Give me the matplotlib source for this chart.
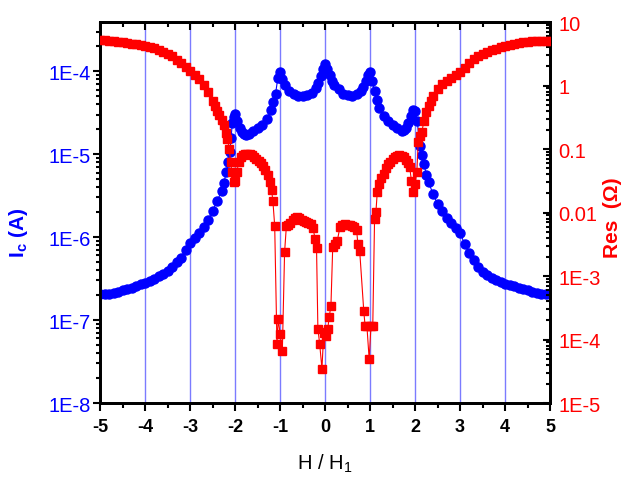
import numpy as np
import matplotlib
matplotlib.use("Agg")
from matplotlib import pyplot as plt
from matplotlib.ticker import FixedLocator, FixedFormatter, LogLocator, NullFormatter, MultipleLocator

plt.rcParams['font.family'] = ['Liberation Sans', 'DejaVu Sans']
plt.rcParams['mathtext.fontset'] = 'custom'
plt.rcParams['mathtext.rm'] = 'Liberation Sans'
plt.rcParams['mathtext.bf'] = 'Liberation Sans:bold'

ic_h = [-5.0, -4.9, -4.8, -4.7, -4.6, -4.5, -4.4, -4.3, -4.2, -4.1,
        -4.0, -3.9, -3.8, -3.7, -3.6, -3.5, -3.4, -3.3, -3.2, -3.1,
        -3.0, -2.9, -2.8, -2.7, -2.6, -2.5, -2.4, -2.3, -2.25, -2.2,
        -2.15, -2.12, -2.09, -2.06, -2.03, -2.0, -1.95, -1.9, -1.85, -1.8,
        -1.75, -1.7, -1.6, -1.5, -1.4, -1.3, -1.2, -1.15, -1.1, -1.05,
        -1.0, -0.95, -0.9, -0.8, -0.7, -0.6, -0.5, -0.4, -0.3, -0.2,
        -0.15, -0.1, -0.05, 0.0, 0.05, 0.1, 0.15, 0.2, 0.3, 0.4,
        0.5, 0.6, 0.7, 0.8, 0.85, 0.9, 0.95, 1.0, 1.05, 1.1,
        1.15, 1.2, 1.3, 1.4, 1.5, 1.6, 1.7, 1.75, 1.8, 1.85,
        1.9, 1.95, 2.0, 2.05, 2.1, 2.15, 2.2, 2.25, 2.3, 2.4,
        2.5, 2.6, 2.7, 2.8, 2.9, 3.0, 3.1, 3.2, 3.3, 3.4,
        3.5, 3.6, 3.7, 3.8, 3.9, 4.0, 4.1, 4.2, 4.3, 4.4,
        4.5, 4.6, 4.7, 4.8, 4.9, 5.0]
ic_log = [-6.69, -6.69, -6.68, -6.67, -6.66, -6.64, -6.62, -6.61, -6.59, -6.57,
          -6.55, -6.53, -6.50, -6.47, -6.44, -6.41, -6.36, -6.30, -6.25, -6.15,
          -6.07, -6.01, -5.95, -5.88, -5.79, -5.68, -5.57, -5.44, -5.35, -5.22,
          -5.10, -4.97, -4.80, -4.62, -4.55, -4.52, -4.60, -4.68, -4.73, -4.76,
          -4.77, -4.76, -4.72, -4.69, -4.65, -4.58, -4.47, -4.37, -4.27, -4.08,
          -4.01, -4.10, -4.17, -4.24, -4.28, -4.30, -4.30, -4.29, -4.26, -4.20,
          -4.14, -4.06, -3.97, -3.92, -3.98, -4.05, -4.12, -4.17, -4.22, -4.27,
          -4.29, -4.30, -4.28, -4.24, -4.19, -4.12, -4.05, -4.01, -4.12, -4.24,
          -4.35, -4.44, -4.54, -4.60, -4.65, -4.69, -4.72, -4.71, -4.68, -4.62,
          -4.54, -4.47, -4.48, -4.60, -4.90, -5.01, -5.12, -5.25, -5.34, -5.48,
          -5.60, -5.69, -5.77, -5.83, -5.89, -5.95, -6.08, -6.19, -6.28, -6.36,
          -6.42, -6.46, -6.49, -6.52, -6.54, -6.56, -6.58, -6.59, -6.61, -6.63,
          -6.64, -6.66, -6.67, -6.68, -6.69, -6.69]

res_h = [-5.0, -4.9, -4.8, -4.7, -4.6, -4.5, -4.4, -4.3, -4.2, -4.1,
         -4.0, -3.9, -3.8, -3.7, -3.6, -3.5, -3.4, -3.3, -3.2, -3.1,
         -3.0, -2.9, -2.8, -2.7, -2.6, -2.5, -2.45, -2.4, -2.35, -2.3,
         -2.25, -2.2, -2.17, -2.13, -2.1, -2.07, -2.03, -2.0, -1.96, -1.92,
         -1.88, -1.83, -1.78, -1.73, -1.68, -1.63, -1.58, -1.53, -1.48, -1.43,
         -1.38, -1.33, -1.28, -1.23, -1.19, -1.16, -1.12, -1.07, -1.04, -1.0,
         -0.95, -0.9, -0.86, -0.82, -0.77, -0.72, -0.67, -0.62, -0.57, -0.52,
         -0.47, -0.42, -0.37, -0.32, -0.27, -0.22, -0.19, -0.16, -0.12, -0.07,
         -0.03, 0.0, 0.03, 0.06, 0.09, 0.13, 0.17, 0.22, 0.27, 0.33,
         0.38, 0.44, 0.5, 0.55, 0.6, 0.65, 0.7, 0.73, 0.77, 0.86,
         0.89, 0.93, 0.98, 1.02, 1.06, 1.1, 1.13, 1.16, 1.2, 1.25,
         1.3, 1.35, 1.4, 1.45, 1.5, 1.55, 1.6, 1.65, 1.7, 1.75,
         1.8, 1.85, 1.88, 1.92, 1.96, 2.0, 2.04, 2.07, 2.11, 2.15,
         2.2, 2.25, 2.3, 2.35, 2.4, 2.5, 2.6, 2.7, 2.8, 2.9,
         3.0, 3.1, 3.2, 3.3, 3.4, 3.5, 3.6, 3.7, 3.8, 3.9,
         4.0, 4.1, 4.2, 4.3, 4.4, 4.5, 4.6, 4.7, 4.8, 4.9, 5.0]
res_log = [0.72, 0.715, 0.71, 0.70, 0.69, 0.68, 0.67, 0.66, 0.65, 0.635,
           0.62, 0.605, 0.59, 0.565, 0.535, 0.50, 0.46, 0.41, 0.35, 0.29,
           0.23, 0.17, 0.10, 0.01, -0.10, -0.24, -0.32, -0.40, -0.47, -0.54,
           -0.62, -0.75, -0.84, -1.00, -1.20, -1.36, -1.52, -1.50, -1.36, -1.20,
           -1.13, -1.09, -1.07, -1.07, -1.08, -1.10, -1.12, -1.15, -1.18, -1.22,
           -1.27, -1.33, -1.41, -1.52, -1.64, -1.82, -2.21, -4.07, -3.68, -3.91,
           -4.18, -2.62, -2.21, -2.20, -2.17, -2.12, -2.09, -2.07, -2.08, -2.11,
           -2.14, -2.15, -2.16, -2.18, -2.24, -2.42, -2.56, -3.83, -4.07, -4.46,
           -3.90, -3.88, -3.94, -3.83, -3.65, -3.47, -2.54, -2.50, -2.45, -2.23,
           -2.19, -2.18, -2.19, -2.20, -2.21, -2.23, -2.27, -2.50, -2.61, -3.55,
           -3.79, -3.79, -4.31, -3.79, -3.79, -2.10, -1.99, -1.68, -1.55, -1.45,
           -1.39, -1.30, -1.24, -1.20, -1.16, -1.13, -1.11, -1.10, -1.11, -1.13,
           -1.17, -1.22, -1.28, -1.50, -1.68, -1.55, -1.36, -0.89, -0.80, -0.73,
           -0.55, -0.42, -0.32, -0.24, -0.17, -0.06, 0.02, 0.07, 0.12, 0.17,
           0.21, 0.28, 0.36, 0.42, 0.46, 0.50, 0.53, 0.555, 0.58, 0.60,
           0.62, 0.64, 0.655, 0.665, 0.68, 0.69, 0.695, 0.70, 0.705, 0.71, 0.71]

grid_h = [-4, -3, -2, -1, 0, 1, 2, 3, 4]
x_ticks = [-5, -4, -3, -2, -1, 0, 1, 2, 3, 4, 5]
left_ticks = [1e-8, 1e-7, 1e-6, 1e-5, 1e-4]
left_labels = ["1E-8", "1E-7", "1E-6", "1E-5", "1E-4"]
right_ticks = [1e-5, 1e-4, 1e-3, 1e-2, 1e-1, 1, 10]
right_labels = ["1E-5", "1E-4", "1E-3", "0.01", "0.1", "1", "10"]

BLUE = "#0000ff"
RED = "#ff0000"

fig = plt.figure(figsize=(6.26, 4.81), dpi=100)
ax = fig.add_axes([0.16, 0.16, 0.7186, 0.792])
ax2 = ax.twinx()

for h in grid_h:
    ax.axvline(h, color="#7b7bff", lw=1.0, zorder=0)

ax.plot(ic_h, 10.0 ** np.array(ic_log), "-o", color=BLUE, lw=0.8,
        ms=6.5, mec=BLUE, mfc=BLUE, zorder=3)
ax2.plot(res_h, 10.0 ** np.array(res_log), "-s", color=RED, lw=0.8,
         ms=5.5, mec=RED, mfc=RED, zorder=3)

ax.set_xlim(-5, 5)
ax.set_yscale("log")
ax.set_ylim(1e-8, 3.9e-4)
ax2.set_yscale("log")
ax2.set_ylim(1e-5, 10)

ax.set_xticks(x_ticks)
ax.set_xticklabels([str(v) for v in x_ticks], fontweight="bold")
ax.xaxis.set_minor_locator(MultipleLocator(0.5))

ax.yaxis.set_major_locator(FixedLocator(left_ticks))
ax.yaxis.set_major_formatter(FixedFormatter(left_labels))
ax.yaxis.set_minor_locator(LogLocator(base=10, subs=np.arange(2, 10), numticks=20))
ax.yaxis.set_minor_formatter(NullFormatter())

ax2.yaxis.set_major_locator(FixedLocator(right_ticks))
ax2.yaxis.set_major_formatter(FixedFormatter(right_labels))
ax2.yaxis.set_minor_locator(LogLocator(base=10, subs=np.arange(2, 10), numticks=20))
ax2.yaxis.set_minor_formatter(NullFormatter())

for a in (ax, ax2):
    for s in a.spines.values():
        s.set_linewidth(2)

# bottom ticks point out, top ticks point in
ax.tick_params(axis="x", which="both", direction="out", width=1.5,
               labelsize=13, pad=5)
ax.tick_params(axis="x", which="major", length=6)
ax.tick_params(axis="x", which="minor", length=3.5)
top = ax.secondary_xaxis("top")
top.set_xticks(x_ticks)
top.xaxis.set_minor_locator(MultipleLocator(0.5))
top.tick_params(axis="x", which="both", direction="in", width=1.5, labeltop=False)
top.tick_params(axis="x", which="major", length=6)
top.tick_params(axis="x", which="minor", length=3.5)
top.spines["top"].set_linewidth(2)

ax.tick_params(axis="y", which="both", direction="out", width=1.5,
               labelsize=14.5, labelcolor=BLUE, pad=2)
ax.tick_params(axis="y", which="major", length=5)
ax.tick_params(axis="y", which="minor", length=3)
ax2.tick_params(axis="y", which="both", direction="in", width=1.5,
                labelsize=14.5, labelcolor=RED, pad=6)
ax2.tick_params(axis="y", which="major", length=5)
ax2.tick_params(axis="y", which="minor", length=3)

ax.set_xlabel("H / H$_1$", fontsize=14.5, labelpad=12)
ax.set_ylabel(r"$\mathbf{I}_\mathbf{c}$ (A)", color=BLUE, fontsize=15,
              fontweight="bold")
ax.yaxis.set_label_coords(-0.157, 0.45)
ax2.set_ylabel("Res  (Ω)", color=RED, fontsize=15, fontweight="bold")
ax2.yaxis.set_label_coords(1.117, 0.49)

fig.savefig("out.png", dpi=100)
